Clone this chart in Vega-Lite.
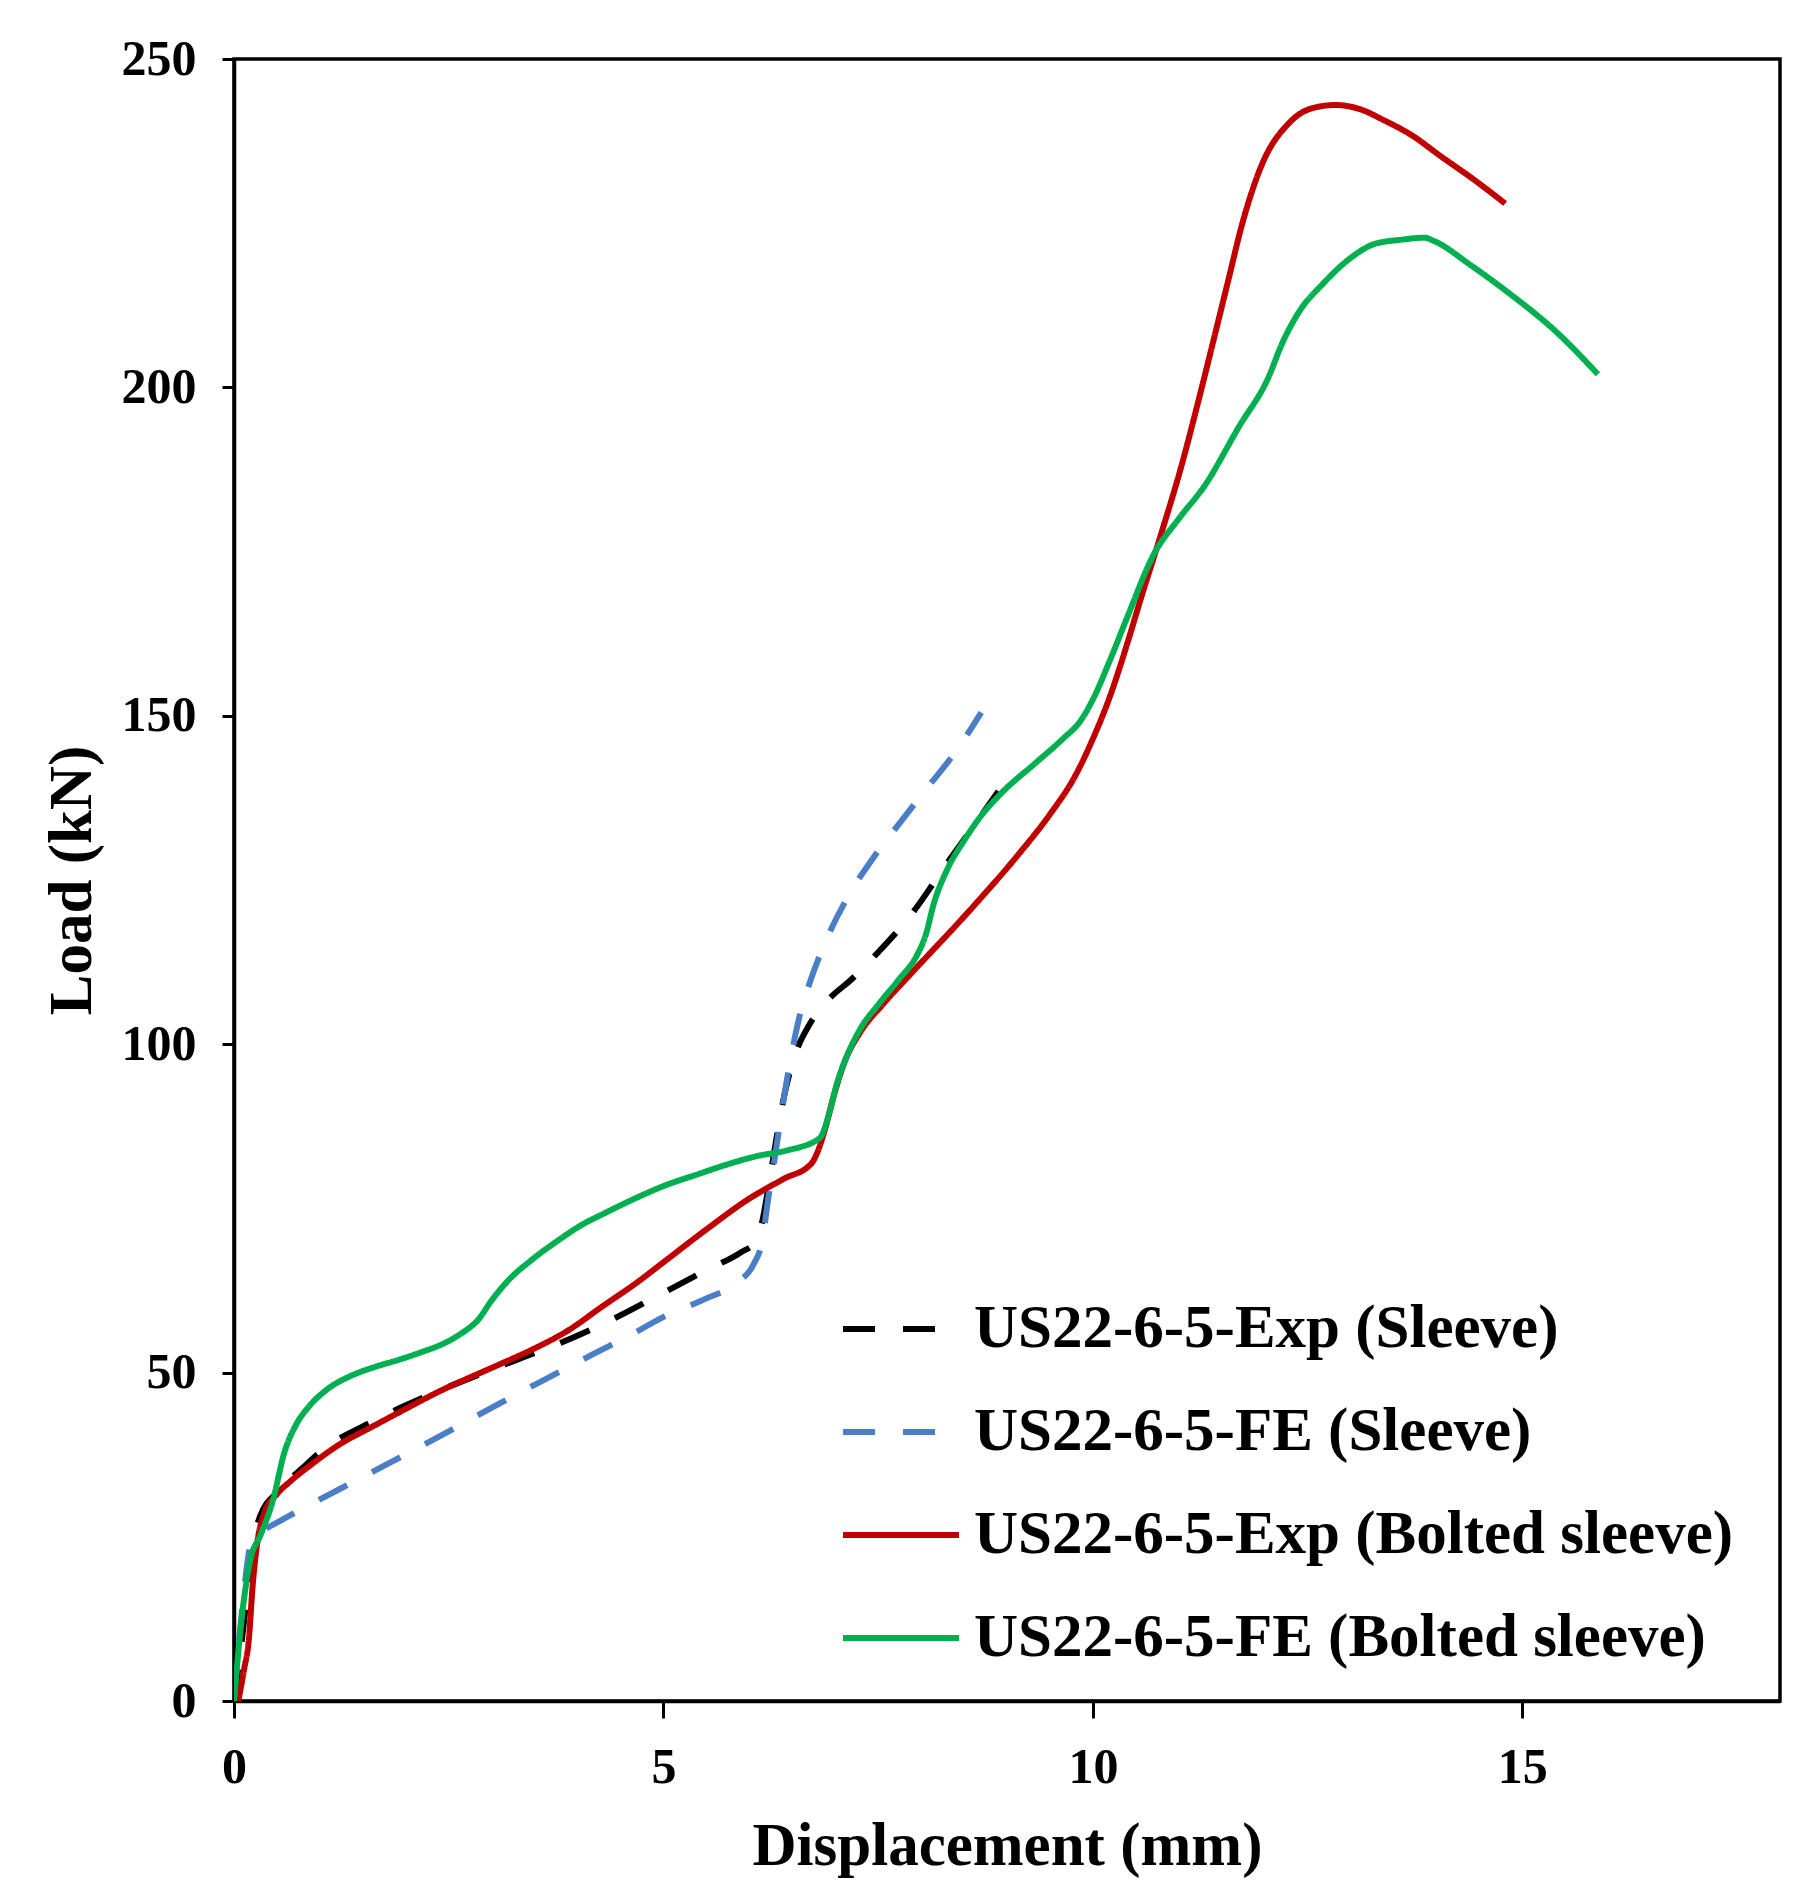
{
  "$schema": "https://vega.github.io/schema/vega-lite/v6.json",
  "width": 1546,
  "height": 1642,
  "autosize": {"type": "none"},
  "padding": {"left": 234, "top": 59, "right": 34, "bottom": 196},
  "background": "white",
  "config": {"view": {"stroke": "#000000", "strokeWidth": 3.5}, "font": "Liberation Serif"},
  "datasets": {
    "curves": [
      {"s": "US22-6-5-Exp (Sleeve)", "d": 0, "p": 0},
      {"s": "US22-6-5-Exp (Sleeve)", "d": 0.08, "p": 8},
      {"s": "US22-6-5-Exp (Sleeve)", "d": 0.15, "p": 16},
      {"s": "US22-6-5-Exp (Sleeve)", "d": 0.22, "p": 24},
      {"s": "US22-6-5-Exp (Sleeve)", "d": 0.3, "p": 28},
      {"s": "US22-6-5-Exp (Sleeve)", "d": 0.52, "p": 32},
      {"s": "US22-6-5-Exp (Sleeve)", "d": 0.8, "p": 35.5},
      {"s": "US22-6-5-Exp (Sleeve)", "d": 1.08, "p": 38.7},
      {"s": "US22-6-5-Exp (Sleeve)", "d": 1.5, "p": 41.8},
      {"s": "US22-6-5-Exp (Sleeve)", "d": 1.93, "p": 44.6},
      {"s": "US22-6-5-Exp (Sleeve)", "d": 2.4, "p": 47.3},
      {"s": "US22-6-5-Exp (Sleeve)", "d": 2.91, "p": 50},
      {"s": "US22-6-5-Exp (Sleeve)", "d": 3.4, "p": 52.5},
      {"s": "US22-6-5-Exp (Sleeve)", "d": 3.76, "p": 54.3},
      {"s": "US22-6-5-Exp (Sleeve)", "d": 4.39, "p": 58},
      {"s": "US22-6-5-Exp (Sleeve)", "d": 5.02, "p": 62.3},
      {"s": "US22-6-5-Exp (Sleeve)", "d": 5.5, "p": 65.6},
      {"s": "US22-6-5-Exp (Sleeve)", "d": 5.9, "p": 68.3},
      {"s": "US22-6-5-Exp (Sleeve)", "d": 6.08, "p": 70},
      {"s": "US22-6-5-Exp (Sleeve)", "d": 6.15, "p": 73},
      {"s": "US22-6-5-Exp (Sleeve)", "d": 6.22, "p": 78},
      {"s": "US22-6-5-Exp (Sleeve)", "d": 6.32, "p": 86},
      {"s": "US22-6-5-Exp (Sleeve)", "d": 6.42, "p": 93},
      {"s": "US22-6-5-Exp (Sleeve)", "d": 6.55, "p": 99},
      {"s": "US22-6-5-Exp (Sleeve)", "d": 6.7, "p": 103},
      {"s": "US22-6-5-Exp (Sleeve)", "d": 6.9, "p": 106.5},
      {"s": "US22-6-5-Exp (Sleeve)", "d": 7.2, "p": 110},
      {"s": "US22-6-5-Exp (Sleeve)", "d": 7.5, "p": 114},
      {"s": "US22-6-5-Exp (Sleeve)", "d": 7.9, "p": 120},
      {"s": "US22-6-5-Exp (Sleeve)", "d": 8.3, "p": 127.5},
      {"s": "US22-6-5-Exp (Sleeve)", "d": 8.6, "p": 133},
      {"s": "US22-6-5-Exp (Sleeve)", "d": 8.9, "p": 138.5},

      {"s": "US22-6-5-FE (Sleeve)", "d": 0, "p": 0},
      {"s": "US22-6-5-FE (Sleeve)", "d": 0.1, "p": 14.7},
      {"s": "US22-6-5-FE (Sleeve)", "d": 0.2, "p": 24},
      {"s": "US22-6-5-FE (Sleeve)", "d": 0.35, "p": 26},
      {"s": "US22-6-5-FE (Sleeve)", "d": 0.52, "p": 27.3},
      {"s": "US22-6-5-FE (Sleeve)", "d": 0.8, "p": 29.3},
      {"s": "US22-6-5-FE (Sleeve)", "d": 1.22, "p": 32.2},
      {"s": "US22-6-5-FE (Sleeve)", "d": 1.7, "p": 35.5},
      {"s": "US22-6-5-FE (Sleeve)", "d": 2.21, "p": 39},
      {"s": "US22-6-5-FE (Sleeve)", "d": 2.7, "p": 42.5},
      {"s": "US22-6-5-FE (Sleeve)", "d": 3.19, "p": 46},
      {"s": "US22-6-5-FE (Sleeve)", "d": 3.7, "p": 49.5},
      {"s": "US22-6-5-FE (Sleeve)", "d": 4.18, "p": 52.8},
      {"s": "US22-6-5-FE (Sleeve)", "d": 4.6, "p": 55.6},
      {"s": "US22-6-5-FE (Sleeve)", "d": 5.02, "p": 58.6},
      {"s": "US22-6-5-FE (Sleeve)", "d": 5.5, "p": 61.3},
      {"s": "US22-6-5-FE (Sleeve)", "d": 5.87, "p": 63.8},
      {"s": "US22-6-5-FE (Sleeve)", "d": 6.05, "p": 66.5},
      {"s": "US22-6-5-FE (Sleeve)", "d": 6.15, "p": 70},
      {"s": "US22-6-5-FE (Sleeve)", "d": 6.22, "p": 76.5},
      {"s": "US22-6-5-FE (Sleeve)", "d": 6.3, "p": 83},
      {"s": "US22-6-5-FE (Sleeve)", "d": 6.38, "p": 90},
      {"s": "US22-6-5-FE (Sleeve)", "d": 6.47, "p": 97},
      {"s": "US22-6-5-FE (Sleeve)", "d": 6.58, "p": 104},
      {"s": "US22-6-5-FE (Sleeve)", "d": 6.72, "p": 110},
      {"s": "US22-6-5-FE (Sleeve)", "d": 6.9, "p": 116},
      {"s": "US22-6-5-FE (Sleeve)", "d": 7.15, "p": 122.5},
      {"s": "US22-6-5-FE (Sleeve)", "d": 7.45, "p": 128.5},
      {"s": "US22-6-5-FE (Sleeve)", "d": 7.8, "p": 134.5},
      {"s": "US22-6-5-FE (Sleeve)", "d": 8.1, "p": 139.5},
      {"s": "US22-6-5-FE (Sleeve)", "d": 8.4, "p": 144.5},
      {"s": "US22-6-5-FE (Sleeve)", "d": 8.7, "p": 150.5},

      {"s": "US22-6-5-Exp (Bolted sleeve)", "d": 0.05, "p": 0},
      {"s": "US22-6-5-Exp (Bolted sleeve)", "d": 0.12, "p": 5},
      {"s": "US22-6-5-Exp (Bolted sleeve)", "d": 0.17, "p": 9},
      {"s": "US22-6-5-Exp (Bolted sleeve)", "d": 0.22, "p": 18},
      {"s": "US22-6-5-Exp (Bolted sleeve)", "d": 0.27, "p": 24},
      {"s": "US22-6-5-Exp (Bolted sleeve)", "d": 0.35, "p": 28.5},
      {"s": "US22-6-5-Exp (Bolted sleeve)", "d": 0.5, "p": 31.5},
      {"s": "US22-6-5-Exp (Bolted sleeve)", "d": 0.66, "p": 33.5},
      {"s": "US22-6-5-Exp (Bolted sleeve)", "d": 0.9, "p": 36},
      {"s": "US22-6-5-Exp (Bolted sleeve)", "d": 1.22, "p": 39},
      {"s": "US22-6-5-Exp (Bolted sleeve)", "d": 1.6, "p": 41.7},
      {"s": "US22-6-5-Exp (Bolted sleeve)", "d": 1.93, "p": 44},
      {"s": "US22-6-5-Exp (Bolted sleeve)", "d": 2.4, "p": 47.2},
      {"s": "US22-6-5-Exp (Bolted sleeve)", "d": 2.77, "p": 49.4},
      {"s": "US22-6-5-Exp (Bolted sleeve)", "d": 3.1, "p": 51.3},
      {"s": "US22-6-5-Exp (Bolted sleeve)", "d": 3.47, "p": 53.5},
      {"s": "US22-6-5-Exp (Bolted sleeve)", "d": 3.9, "p": 56.5},
      {"s": "US22-6-5-Exp (Bolted sleeve)", "d": 4.28, "p": 60},
      {"s": "US22-6-5-Exp (Bolted sleeve)", "d": 4.7, "p": 63.8},
      {"s": "US22-6-5-Exp (Bolted sleeve)", "d": 5.02, "p": 67},
      {"s": "US22-6-5-Exp (Bolted sleeve)", "d": 5.5, "p": 71.8},
      {"s": "US22-6-5-Exp (Bolted sleeve)", "d": 6.0, "p": 76.5},
      {"s": "US22-6-5-Exp (Bolted sleeve)", "d": 6.4, "p": 79.5},
      {"s": "US22-6-5-Exp (Bolted sleeve)", "d": 6.72, "p": 81.8},
      {"s": "US22-6-5-Exp (Bolted sleeve)", "d": 6.8, "p": 83.8},
      {"s": "US22-6-5-Exp (Bolted sleeve)", "d": 6.88, "p": 87},
      {"s": "US22-6-5-Exp (Bolted sleeve)", "d": 6.98, "p": 92},
      {"s": "US22-6-5-Exp (Bolted sleeve)", "d": 7.1, "p": 97},
      {"s": "US22-6-5-Exp (Bolted sleeve)", "d": 7.3, "p": 102},
      {"s": "US22-6-5-Exp (Bolted sleeve)", "d": 7.55, "p": 106},
      {"s": "US22-6-5-Exp (Bolted sleeve)", "d": 7.9, "p": 111},
      {"s": "US22-6-5-Exp (Bolted sleeve)", "d": 8.54, "p": 120},
      {"s": "US22-6-5-Exp (Bolted sleeve)", "d": 9.14, "p": 129},
      {"s": "US22-6-5-Exp (Bolted sleeve)", "d": 9.5, "p": 135},
      {"s": "US22-6-5-Exp (Bolted sleeve)", "d": 9.8, "p": 141},
      {"s": "US22-6-5-Exp (Bolted sleeve)", "d": 10.0, "p": 146.5},
      {"s": "US22-6-5-Exp (Bolted sleeve)", "d": 10.2, "p": 153},
      {"s": "US22-6-5-Exp (Bolted sleeve)", "d": 10.4, "p": 161},
      {"s": "US22-6-5-Exp (Bolted sleeve)", "d": 10.55, "p": 167.5},
      {"s": "US22-6-5-Exp (Bolted sleeve)", "d": 10.79, "p": 177.5},
      {"s": "US22-6-5-Exp (Bolted sleeve)", "d": 11.03, "p": 188},
      {"s": "US22-6-5-Exp (Bolted sleeve)", "d": 11.22, "p": 197.5},
      {"s": "US22-6-5-Exp (Bolted sleeve)", "d": 11.42, "p": 208},
      {"s": "US22-6-5-Exp (Bolted sleeve)", "d": 11.58, "p": 216.5},
      {"s": "US22-6-5-Exp (Bolted sleeve)", "d": 11.73, "p": 224.5},
      {"s": "US22-6-5-Exp (Bolted sleeve)", "d": 11.97, "p": 234},
      {"s": "US22-6-5-Exp (Bolted sleeve)", "d": 12.28, "p": 240.2},
      {"s": "US22-6-5-Exp (Bolted sleeve)", "d": 12.55, "p": 242.5},
      {"s": "US22-6-5-Exp (Bolted sleeve)", "d": 12.83, "p": 243},
      {"s": "US22-6-5-Exp (Bolted sleeve)", "d": 13.1, "p": 242.4},
      {"s": "US22-6-5-Exp (Bolted sleeve)", "d": 13.4, "p": 240.6},
      {"s": "US22-6-5-Exp (Bolted sleeve)", "d": 13.7, "p": 238.5},
      {"s": "US22-6-5-Exp (Bolted sleeve)", "d": 14.05, "p": 235.2},
      {"s": "US22-6-5-Exp (Bolted sleeve)", "d": 14.45, "p": 231.5},
      {"s": "US22-6-5-Exp (Bolted sleeve)", "d": 14.8, "p": 228},

      {"s": "US22-6-5-FE (Bolted sleeve)", "d": 0, "p": 0},
      {"s": "US22-6-5-FE (Bolted sleeve)", "d": 0.1, "p": 13.8},
      {"s": "US22-6-5-FE (Bolted sleeve)", "d": 0.2, "p": 22},
      {"s": "US22-6-5-FE (Bolted sleeve)", "d": 0.3, "p": 25},
      {"s": "US22-6-5-FE (Bolted sleeve)", "d": 0.45, "p": 30.4},
      {"s": "US22-6-5-FE (Bolted sleeve)", "d": 0.59, "p": 38},
      {"s": "US22-6-5-FE (Bolted sleeve)", "d": 0.72, "p": 42},
      {"s": "US22-6-5-FE (Bolted sleeve)", "d": 0.87, "p": 44.8},
      {"s": "US22-6-5-FE (Bolted sleeve)", "d": 1.1, "p": 47.6},
      {"s": "US22-6-5-FE (Bolted sleeve)", "d": 1.36, "p": 49.5},
      {"s": "US22-6-5-FE (Bolted sleeve)", "d": 1.65, "p": 50.9},
      {"s": "US22-6-5-FE (Bolted sleeve)", "d": 1.93, "p": 52},
      {"s": "US22-6-5-FE (Bolted sleeve)", "d": 2.2, "p": 53.2},
      {"s": "US22-6-5-FE (Bolted sleeve)", "d": 2.42, "p": 54.3},
      {"s": "US22-6-5-FE (Bolted sleeve)", "d": 2.65, "p": 56},
      {"s": "US22-6-5-FE (Bolted sleeve)", "d": 2.84, "p": 58},
      {"s": "US22-6-5-FE (Bolted sleeve)", "d": 3.0, "p": 61},
      {"s": "US22-6-5-FE (Bolted sleeve)", "d": 3.19, "p": 64},
      {"s": "US22-6-5-FE (Bolted sleeve)", "d": 3.45, "p": 67},
      {"s": "US22-6-5-FE (Bolted sleeve)", "d": 3.76, "p": 70},
      {"s": "US22-6-5-FE (Bolted sleeve)", "d": 4.05, "p": 72.5},
      {"s": "US22-6-5-FE (Bolted sleeve)", "d": 4.32, "p": 74.3},
      {"s": "US22-6-5-FE (Bolted sleeve)", "d": 4.7, "p": 76.7},
      {"s": "US22-6-5-FE (Bolted sleeve)", "d": 5.02, "p": 78.5},
      {"s": "US22-6-5-FE (Bolted sleeve)", "d": 5.4, "p": 80.2},
      {"s": "US22-6-5-FE (Bolted sleeve)", "d": 5.72, "p": 81.6},
      {"s": "US22-6-5-FE (Bolted sleeve)", "d": 6.1, "p": 83},
      {"s": "US22-6-5-FE (Bolted sleeve)", "d": 6.43, "p": 83.8},
      {"s": "US22-6-5-FE (Bolted sleeve)", "d": 6.82, "p": 85.7},
      {"s": "US22-6-5-FE (Bolted sleeve)", "d": 6.92, "p": 89},
      {"s": "US22-6-5-FE (Bolted sleeve)", "d": 7.02, "p": 94},
      {"s": "US22-6-5-FE (Bolted sleeve)", "d": 7.14, "p": 98.3},
      {"s": "US22-6-5-FE (Bolted sleeve)", "d": 7.3, "p": 102.5},
      {"s": "US22-6-5-FE (Bolted sleeve)", "d": 7.5, "p": 106},
      {"s": "US22-6-5-FE (Bolted sleeve)", "d": 7.75, "p": 110},
      {"s": "US22-6-5-FE (Bolted sleeve)", "d": 7.95, "p": 113.5},
      {"s": "US22-6-5-FE (Bolted sleeve)", "d": 8.05, "p": 116.5},
      {"s": "US22-6-5-FE (Bolted sleeve)", "d": 8.15, "p": 121.5},
      {"s": "US22-6-5-FE (Bolted sleeve)", "d": 8.3, "p": 126.5},
      {"s": "US22-6-5-FE (Bolted sleeve)", "d": 8.5, "p": 131},
      {"s": "US22-6-5-FE (Bolted sleeve)", "d": 8.7, "p": 134.8},
      {"s": "US22-6-5-FE (Bolted sleeve)", "d": 8.94, "p": 138.3},
      {"s": "US22-6-5-FE (Bolted sleeve)", "d": 9.34, "p": 142.9},
      {"s": "US22-6-5-FE (Bolted sleeve)", "d": 9.65, "p": 146.5},
      {"s": "US22-6-5-FE (Bolted sleeve)", "d": 9.86, "p": 149.3},
      {"s": "US22-6-5-FE (Bolted sleeve)", "d": 10.0, "p": 152.5},
      {"s": "US22-6-5-FE (Bolted sleeve)", "d": 10.2, "p": 158.5},
      {"s": "US22-6-5-FE (Bolted sleeve)", "d": 10.4, "p": 165},
      {"s": "US22-6-5-FE (Bolted sleeve)", "d": 10.71, "p": 174.6},
      {"s": "US22-6-5-FE (Bolted sleeve)", "d": 11.0, "p": 180},
      {"s": "US22-6-5-FE (Bolted sleeve)", "d": 11.3, "p": 185},
      {"s": "US22-6-5-FE (Bolted sleeve)", "d": 11.7, "p": 194},
      {"s": "US22-6-5-FE (Bolted sleeve)", "d": 12.05, "p": 201.7},
      {"s": "US22-6-5-FE (Bolted sleeve)", "d": 12.2, "p": 206.6},
      {"s": "US22-6-5-FE (Bolted sleeve)", "d": 12.4, "p": 211.5},
      {"s": "US22-6-5-FE (Bolted sleeve)", "d": 12.68, "p": 215.8},
      {"s": "US22-6-5-FE (Bolted sleeve)", "d": 12.99, "p": 219.6},
      {"s": "US22-6-5-FE (Bolted sleeve)", "d": 13.27, "p": 221.8},
      {"s": "US22-6-5-FE (Bolted sleeve)", "d": 13.6, "p": 222.5},
      {"s": "US22-6-5-FE (Bolted sleeve)", "d": 13.86, "p": 222.8},
      {"s": "US22-6-5-FE (Bolted sleeve)", "d": 13.97, "p": 222.3},
      {"s": "US22-6-5-FE (Bolted sleeve)", "d": 14.4, "p": 218.6},
      {"s": "US22-6-5-FE (Bolted sleeve)", "d": 14.84, "p": 214.4},
      {"s": "US22-6-5-FE (Bolted sleeve)", "d": 15.4, "p": 208.4},
      {"s": "US22-6-5-FE (Bolted sleeve)", "d": 15.88, "p": 202}
    ]
  },
  "data": {"name": "curves"},
  "mark": {"type": "line", "strokeWidth": 6, "interpolate": "monotone", "clip": true},
  "encoding": {
    "x": {
      "field": "d", "type": "quantitative",
      "scale": {"domain": [0, 18], "nice": false, "zero": false},
      "axis": {
        "title": "Displacement (mm)", "values": [0, 5, 10, 15], "grid": false, "labelFlush": false,
        "domainColor": "#000000", "domainWidth": 3.5, "tickColor": "#000000", "tickWidth": 3, "tickSize": 17,
        "labelFont": "Liberation Serif", "labelFontWeight": "bold", "labelFontSize": 50, "labelColor": "#000000", "labelPadding": 24,
        "titleFont": "Liberation Serif", "titleFontWeight": "bold", "titleFontSize": 61, "titleColor": "#000000", "titlePadding": 24
      }
    },
    "y": {
      "field": "p", "type": "quantitative",
      "scale": {"domain": [0, 250], "nice": false},
      "axis": {
        "title": "Load (kN)", "values": [0, 50, 100, 150, 200, 250], "grid": false, "labelFlush": false,
        "domainColor": "#000000", "domainWidth": 3.5, "tickColor": "#000000", "tickWidth": 3, "tickSize": 12,
        "labelFont": "Liberation Serif", "labelFontWeight": "bold", "labelFontSize": 50, "labelColor": "#000000", "labelPadding": 26,
        "titleFont": "Liberation Serif", "titleFontWeight": "bold", "titleFontSize": 61, "titleColor": "#000000", "titlePadding": 18
      }
    },
    "color": {
      "field": "s", "type": "nominal",
      "scale": {
        "domain": ["US22-6-5-Exp (Sleeve)", "US22-6-5-FE (Sleeve)", "US22-6-5-Exp (Bolted sleeve)", "US22-6-5-FE (Bolted sleeve)"],
        "range": ["#000000", "#4A7EC7", "#C00000", "#00B050"]
      },
      "legend": {
        "title": null, "orient": "none", "legendX": 606, "legendY": 1209, "padding": 0,
        "symbolType": "stroke", "symbolSize": 13456, "symbolStrokeWidth": 6,
        "labelFont": "Liberation Serif", "labelFontWeight": "bold", "labelFontSize": 61, "labelColor": "#000000",
        "labelOffset": 12, "labelLimit": 1200, "rowPadding": 12
      }
    },
    "strokeDash": {
      "field": "s", "type": "nominal",
      "scale": {
        "domain": ["US22-6-5-Exp (Sleeve)", "US22-6-5-FE (Sleeve)", "US22-6-5-Exp (Bolted sleeve)", "US22-6-5-FE (Bolted sleeve)"],
        "range": [[32, 28], [32, 28], [1, 0], [1, 0]]
      },
      "legend": {
        "title": null, "orient": "none", "legendX": 606, "legendY": 1209, "padding": 0,
        "symbolType": "stroke", "symbolSize": 13456, "symbolStrokeWidth": 6,
        "labelFont": "Liberation Serif", "labelFontWeight": "bold", "labelFontSize": 61, "labelColor": "#000000",
        "labelOffset": 12, "labelLimit": 1200, "rowPadding": 12
      }
    }
  }
}
